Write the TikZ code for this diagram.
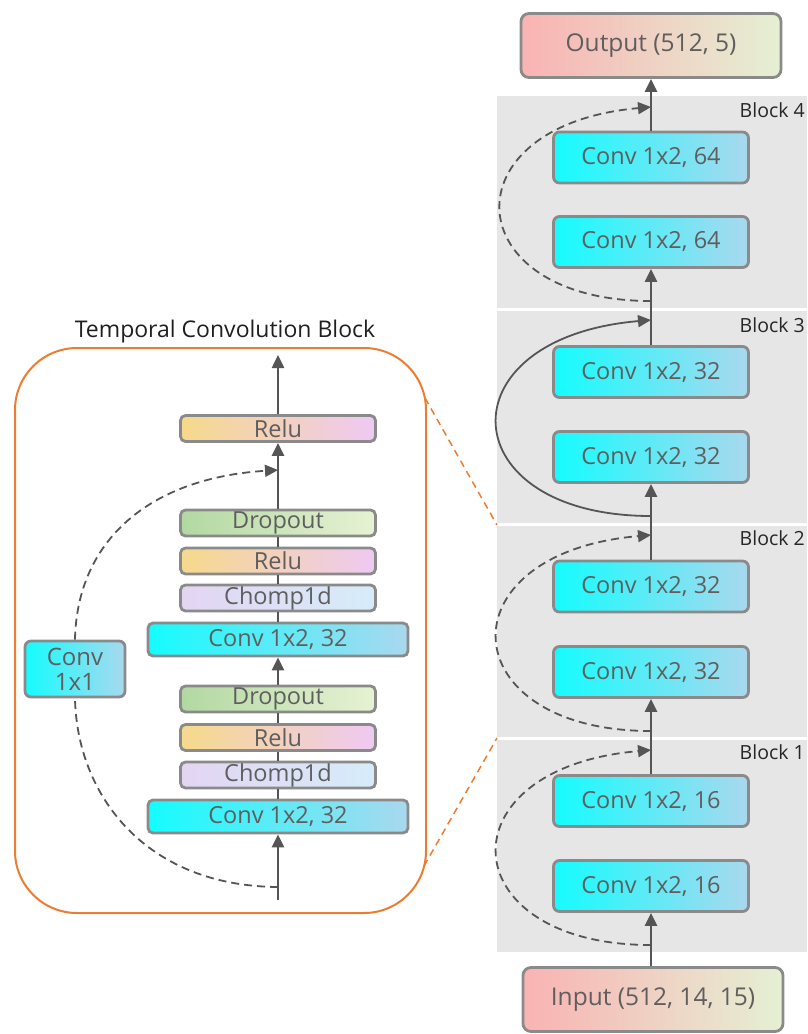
\documentclass[tikz,border=0pt]{standalone}
\usepackage{fontspec}
\setmainfont{Open Sans}
\usetikzlibrary{arrows.meta,calc}

\definecolor{txtgray}{HTML}{5E5E5E}
\definecolor{boxgray}{HTML}{8A8A8A}
\definecolor{linegray}{HTML}{555555}
\definecolor{blockbg}{HTML}{E7E6E6}
\definecolor{tcnorange}{HTML}{EB7D32}
\definecolor{convL}{HTML}{14FCFE}
\definecolor{convR}{HTML}{AAD8EE}
\definecolor{ioL}{HTML}{F9B3B3}
\definecolor{ioR}{HTML}{E5F0D3}
\definecolor{reluL}{HTML}{F6D98B}
\definecolor{reluM}{HTML}{EFC7C4}
\definecolor{reluR}{HTML}{EEC9F3}
\definecolor{dropL}{HTML}{B2D8A1}
\definecolor{dropR}{HTML}{E7F2D4}
\definecolor{chompL}{HTML}{E3D5F3}
\definecolor{chompR}{HTML}{D6ECF9}

\begin{document}
\begin{tikzpicture}[x=1pt,y=-1pt,
  layer/.style={draw=boxgray, line width=2.8pt, rounded corners=6pt, text=txtgray,
    inner sep=0pt, align=center, font=\fontsize{23.5}{26}\selectfont},
  convbox/.style={layer, left color=convL, right color=convR},
  bigconv/.style={convbox, minimum width=195pt, minimum height=51pt},
  wideconv/.style={convbox, minimum width=260pt, minimum height=33pt, rounded corners=5pt},
  thin/.style={minimum width=195pt, minimum height=26pt, rounded corners=5pt},
  iobox/.style={layer, left color=ioL, right color=ioR, minimum width=260pt, minimum height=64pt, rounded corners=8pt, font=\fontsize{24.5}{27}\selectfont},
  relubox/.style={layer, thin, left color=reluL, middle color=reluM, right color=reluR},
  dropbox/.style={layer, thin, left color=dropL, right color=dropR},
  chompbox/.style={layer, thin, left color=chompL, right color=chompR},
  link/.style={draw=linegray, line width=2.5pt},
  arr/.style={link, -{Triangle[length=13pt,width=12pt]}},
  skipd/.style={draw=linegray, line width=1.8pt, dash pattern=on 8pt off 5pt,
    -{Triangle[length=13pt,width=12pt]}},
  skips/.style={draw=linegray, line width=1.8pt, -{Triangle[length=13pt,width=12pt]}},
  blocklabel/.style={anchor=east, font=\fontsize{19.5}{21}\selectfont, text=black!85, inner sep=0pt},
  zoomline/.style={draw=tcnorange, line width=1.5pt, dash pattern=on 7pt off 5pt}
]
\useasboundingbox (0,0) rectangle (807,1034);

% ---------- residual blocks (grey panels) ----------
\fill[blockbg] (497,96)  rectangle (807,308);
\fill[blockbg] (497,311) rectangle (807,523);
\fill[blockbg] (497,526) rectangle (807,737);
\fill[blockbg] (497,740) rectangle (807,952);

\node[blocklabel] (lb4) at (805,110) {Block 4};
\node[blocklabel] (lb3) at (805,325) {Block 3};
\node[blocklabel] (lb2) at (805,538) {Block 2};
\node[blocklabel] (lb1) at (805,752) {Block 1};

% ---------- detail panel ----------
\draw[tcnorange, line width=2pt, rounded corners=62pt] (15,348) rectangle (426,913);
\node[font=\fontsize{23}{25}\selectfont, text=black!88] (title) at (225,332) {Temporal Convolution Block};

\coordinate (zA) at (425,398);
\coordinate (zB) at (497,525);
\coordinate (zC) at (424,866);
\coordinate (zD) at (497,738);
\draw[zoomline] (zA) -- (zB);
\draw[zoomline] (zC) -- (zD);

% ---------- main stack ----------
\node[iobox] (out) at (651,45.5) {Output (512, 5)};
\node[bigconv] (c4b) at (651,157.5) {Conv 1x2, 64};
\node[bigconv] (c4a) at (651,242) {Conv 1x2, 64};
\node[bigconv] (c3b) at (651,372) {Conv 1x2, 32};
\node[bigconv] (c3a) at (651,457) {Conv 1x2, 32};
\node[bigconv] (c2b) at (651,586.5) {Conv 1x2, 32};
\node[bigconv] (c2a) at (651,672) {Conv 1x2, 32};
\node[bigconv] (c1b) at (651,801) {Conv 1x2, 16};
\node[bigconv] (c1a) at (651,886) {Conv 1x2, 16};
\node[iobox] (in) at (653,999.5) {Input (512, 14, 15)};

\draw[arr] (in.north -| c1a.south) -- (c1a.south);
\draw[arr] (c1b.north) -- (c2a.south);
\draw[arr] (c2b.north) -- (c3a.south);
\draw[arr] (c3b.north) -- (c4a.south);
\draw[arr] (c4b.north) -- (out.south);

% skip connections of the main stack
\coordinate (s1) at (651,945); \coordinate (e1) at (651,750);
\coordinate (s2) at (651,731); \coordinate (e2) at (651,535);
\coordinate (s3) at (651,516); \coordinate (e3) at (651,320);
\coordinate (s4) at (651,301); \coordinate (e4) at (651,107);
\draw[skipd] (s1) .. controls ($(s1)+(-200,0)$) and ($(e1)+(-210,18)$) .. (e1);
\draw[skipd] (s2) .. controls ($(s2)+(-200,0)$) and ($(e2)+(-210,18)$) .. (e2);
\draw[skips] (s3) .. controls ($(s3)+(-200,0)$) and ($(e3)+(-210,18)$) .. (e3);
\draw[skipd] (s4) .. controls ($(s4)+(-195,0)$) and ($(e4)+(-205,18)$) .. (e4);

% ---------- inside the temporal convolution block ----------
\node[relubox] (r3) at (278,428.5) {Relu};
\node[dropbox] (d2) at (278,523) {Dropout};
\node[relubox] (r2) at (278,561) {Relu};
\node[chompbox] (h2) at (278,598) {Chomp1d};
\node[wideconv] (k2) at (278,639.5) {Conv 1x2, 32};
\node[dropbox] (d1) at (278,699) {Dropout};
\node[relubox] (r1) at (278,737.5) {Relu};
\node[chompbox] (h1) at (278,775) {Chomp1d};
\node[wideconv] (k1) at (278,816.5) {Conv 1x2, 32};
\node[convbox, minimum width=100pt, minimum height=56pt, rounded corners=6pt,
  font=\fontsize{24}{28}\selectfont] (k11) at (75,669) {Conv\\[-3pt]1x1};

\coordinate (tin) at (278,900);
\coordinate (tout) at (278,355);
\coordinate (ts) at (278,887);
\coordinate (te) at (278,470);

\draw[arr] (tin) -- (k1.south);
\draw[link] (k1.north) -- (h1.south);
\draw[link] (h1.north) -- (r1.south);
\draw[link] (r1.north) -- (d1.south);
\draw[arr] (d1.north) -- (k2.south);
\draw[link] (k2.north) -- (h2.south);
\draw[link] (h2.north) -- (r2.south);
\draw[link] (r2.north) -- (d2.south);
\draw[arr] (d2.north) -- (r3.south);
\draw[arr] (r3.north) -- (tout);

\draw[draw=linegray, line width=1.8pt, dash pattern=on 8pt off 5pt]
  (ts) .. controls (145,886) and (77,795) .. (k11.south);
\draw[skipd] (k11.north) .. controls (77,540) and (150,478) .. (te);

\end{tikzpicture}
\end{document}
